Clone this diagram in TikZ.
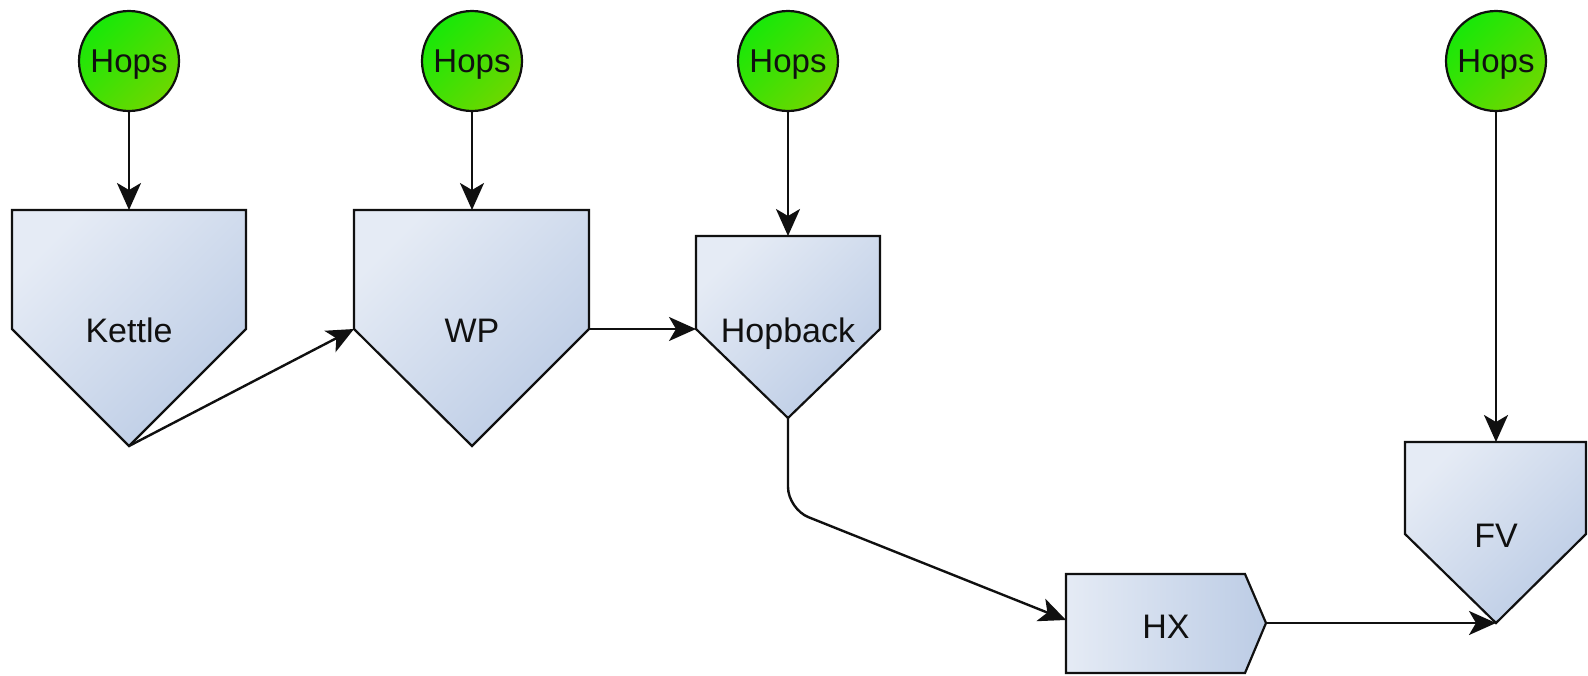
\documentclass[tikz,border=0pt]{standalone}
\usepackage{fontspec}
\setmainfont{Liberation Sans}
\usetikzlibrary{arrows.meta}
\definecolor{vlite}{RGB}{229,235,245}
\definecolor{vdark}{RGB}{188,204,229}
\definecolor{hopa}{RGB}{24,232,8}
\definecolor{hopb}{RGB}{108,216,0}
\definecolor{ink}{RGB}{16,16,16}
\tikzset{
  vessel/.style={draw=ink, line width=2.2pt, line join=miter,
    top color=vlite, bottom color=vdark, shading angle=45},
  exchanger/.style={draw=ink, line width=2.2pt,
    left color=vlite, right color=vdark},
  hops/.style={circle, draw=ink, line width=2.2pt, minimum size=100pt, inner sep=0pt,
    top color=hopa, bottom color=hopb, shading angle=45,
    font=\fontsize{33}{38}\selectfont, text=ink, text height=23.5pt, text depth=0pt},
  tag/.style={font=\fontsize{34}{40}\selectfont, text=ink, inner sep=0pt,
    text height=24.5pt, text depth=0pt},
  flow/.style={draw=ink, line width=2.4pt,
    -{Stealth[length=27pt, width=24pt, inset=7pt]}},
}
\begin{document}
\begin{tikzpicture}[x=1pt, y=-1pt]
  \useasboundingbox (0,0) rectangle (1588,675);

  % vessels: rectangle body with a conical bottom
  \draw[vessel] (12,210) -- (246,210) -- (246,329) -- (129,446) -- (12,329) -- cycle;
  \draw[vessel] (354,210) -- (589,210) -- (589,329) -- (472,446) -- (354,329) -- cycle;
  \draw[vessel] (696,236) -- (880,236) -- (880,329) -- (788,418) -- (696,329) -- cycle;
  \draw[vessel] (1405,442) -- (1586,442) -- (1586,534) -- (1496,623) -- (1405,534) -- cycle;
  % heat exchanger
  \draw[exchanger] (1066,574) -- (1245,574) -- (1266,623) -- (1245,673) -- (1066,673) -- cycle;

  % anchor points of the vessels
  \coordinate (ktop) at (129,210);
  \coordinate (ktip) at (129,446);
  \coordinate (wtop) at (472,210);
  \coordinate (wleft) at (354,329);
  \coordinate (wright) at (589,329);
  \coordinate (htop) at (788,236);
  \coordinate (hleft) at (696,329);
  \coordinate (htip) at (788,418);
  \coordinate (hbend) at (788,509);
  \coordinate (xin) at (1066,620);
  \coordinate (xout) at (1266,623);
  \coordinate (ftop) at (1496,442);
  \coordinate (ftip) at (1496,623);

  % labels
  \node[tag] (lk) at (129,330) {Kettle};
  \node[tag] (lw) at (472,330) {WP};
  \node[tag] (lh) at (788,330) {Hopback};
  \node[tag] (lf) at (1496,535) {FV};
  \node[tag] (lx) at (1166,626) {HX};

  % hop additions
  \node[hops] (h1) at (129,61) {Hops};
  \node[hops] (h2) at (472,61) {Hops};
  \node[hops] (h3) at (788,61) {Hops};
  \node[hops] (h4) at (1496,61) {Hops};

  \draw[flow] (h1) -- (ktop);
  \draw[flow] (h2) -- (wtop);
  \draw[flow] (h3) -- (htop);
  \draw[flow] (h4) -- (ftop);

  % wort path
  \draw[flow] (ktip) -- (wleft);
  \draw[flow] (wright) -- (hleft);
  \draw[flow, rounded corners=22pt] (htip) -- (hbend) -- (xin);
  \draw[flow] (xout) -- (ftip);
\end{tikzpicture}
\end{document}
